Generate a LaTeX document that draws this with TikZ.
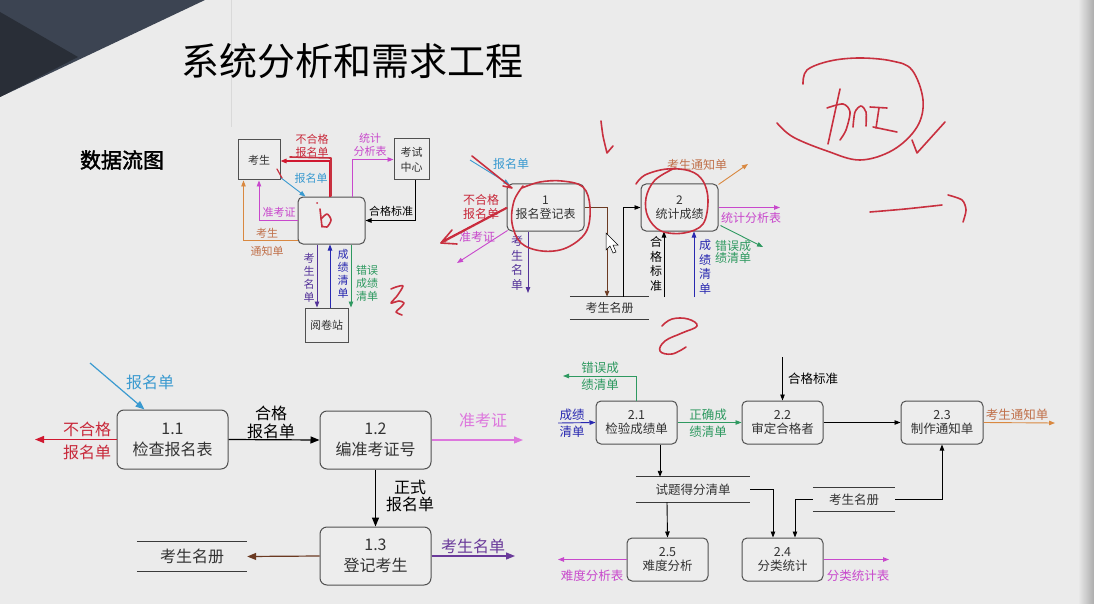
\documentclass[tikz,border=0pt]{standalone}
\usepackage{fontspec}
\setmainfont{Noto Sans CJK SC}
\newfontfamily\boldcjk[FakeBold=2]{Noto Sans CJK SC}
\usetikzlibrary{arrows.meta,calc}
\definecolor{bg}{HTML}{EBEBEB}
\definecolor{bgbox}{HTML}{EDEDED}
\definecolor{slateA}{HTML}{3C4452}
\definecolor{slateB}{HTML}{292E37}
\definecolor{boxc}{HTML}{505050}
\definecolor{boxt}{HTML}{333333}
\definecolor{storec}{HTML}{3A3A3A}
\definecolor{redc}{HTML}{D01830}
\definecolor{redt}{HTML}{C8283A}
\definecolor{bluec}{HTML}{3A9AD0}
\definecolor{magc}{HTML}{C848CC}
\definecolor{pinkc}{HTML}{DD77DD}
\definecolor{greenc}{HTML}{2E9960}
\definecolor{purc}{HTML}{55339A}
\definecolor{purc2}{HTML}{6A3A9A}
\definecolor{dbluec}{HTML}{2828B0}
\definecolor{orc}{HTML}{D98840}
\definecolor{ort}{HTML}{C0704A}
\definecolor{brownc}{HTML}{6B3A22}
\definecolor{handc}{HTML}{C8303F}
\newcommand\fntA{\fontsize{11}{12.5}\selectfont}
\newcommand\fntAv{\fontsize{11}{13}\selectfont}
\newcommand\fntB{\fontsize{12}{14.5}\selectfont}
\newcommand\fntC{\fontsize{16}{21}\selectfont}
\newcommand\fntD{\fontsize{12.5}{14.5}\selectfont}
\begin{document}
\begin{tikzpicture}[x=1pt,y=-1pt,
  ext/.style={draw=boxc, line width=1pt, inner sep=0pt, align=center, fill=bgbox, text=boxt},
  proc/.style={ext, rounded corners=5pt},
  lab/.style={inner sep=0pt, align=center},
  arrS/.style={-{Triangle[length=6pt,width=4.5pt]}, line width=0.9pt},
  arrL/.style={-{Triangle[length=9pt,width=7pt]}, line width=1.2pt},
  sline/.style={line width=1.2pt, draw=storec},
  hand/.style={draw=handc, line width=1.6pt, line cap=round, line join=round},
]
% background
\fill[bg] (0,0) rectangle (1094,604);
\useasboundingbox (0,0) rectangle (1094,604);
\shade[left color=bg, right color=gray!65] (1078,0) rectangle (1094,604);
\fill[slateA] (0,0) -- (205,0) -- (0,97) -- cycle;
\fill[slateB] (0,12) -- (78,57) -- (0,97) -- cycle;
\draw[gray!30, line width=0.4pt] (231,0) -- (231,127);

% titles
\node[lab, font=\fontsize{38}{40}\selectfont] (title) at (352,61) {系统分析和需求工程};
\node[lab, font=\boldcjk\fontsize{21}{24}\selectfont] (dfd) at (122,160) {数据流图};

% ===== top-left diagram =====
\node[ext, font=\fntA, minimum width=42pt, minimum height=40pt] (ks) at (259,160) {考生};
\node[ext, font=\fontsize{11}{15}\selectfont, minimum width=35pt, minimum height=41pt] (ksc) at (411.5,159.5) {考试\\中心};
\node[proc, minimum width=67pt, minimum height=47pt] (p0) at (331.5,220.5) {};
\node[ext, font=\fntA, minimum width=43pt, minimum height=34pt] (yjz) at (326.5,325) {阅卷站};

\draw[arrS, redc, line width=1.3pt] ($(p0.north)+(-1.5,0)$) |- ($(ks.east)+(0,1)$);
\node[lab, font=\fntA, text=redt] (l01) at (312,146) {不合格\\报名单};
\draw[arrS, bluec] ($(ks.south east)+(0,-3)$) -- ($(p0.north west)+(8,0)$);
\node[lab, font=\fntA, text=bluec] (l02) at (311,178) {报名单};
\draw[arrS, magc] (p0.west) -| (ks.south);
\node[lab, font=\fntA, text=magc] (l03) at (279,212) {准考证};
\draw[arrS, orc] ($(p0.south west)+(0,-4)$) -| ($(ks.south west)+(6,0)$);
\node[lab, font=\fontsize{11}{18}\selectfont, text=ort] (l04) at (267,242) {考生\\通知单};
\draw[arrS, magc] ($(p0.north east)+(-13,0)$) |- (ksc.west);
\node[lab, font=\fntA, text=magc] (l05) at (370,145) {统计\\分析表};
\draw[arrS] ($(ksc.south)+(3.5,0)$) |- (p0.east);
\node[lab, font=\fntA] (l06) at (391,211) {合格标准};
\draw[arrS, purc] ($(p0.south)+(-14.5,0)$) -- ($(yjz.north)+(-9.5,0)$);
\node[lab, font=\fntAv, text=purc] (l07) at (309,278) {考\\生\\名\\单};
\draw[arrS, dbluec] ($(yjz.north)+(3.5,0)$) -- ($(p0.south)+(-1.5,0)$);
\node[lab, font=\fntAv, text=dbluec] (l08) at (343,274) {成\\绩\\清\\单};
\draw[arrS, greenc] ($(p0.south)+(19.5,0)$) -- ($(yjz.north)+(24.5,0)$);
\node[lab, font=\fntAv, text=greenc] (l09) at (367,283) {错误\\成绩\\清单};

% ===== top-middle diagram =====
\node[proc, font=\fntB, minimum width=77pt, minimum height=47pt] (p1) at (545.5,207.5) {1\\报名登记表};
\node[proc, font=\fntB, minimum width=77pt, minimum height=47pt] (p2) at (679.5,207.5) {2\\统计成绩};
\node[lab, font=\fntB, text=boxt, minimum width=79pt, minimum height=22pt] (s1) at (609.5,308) {考生名册};
\draw[sline] (s1.north west) -- (s1.north east);
\draw[sline] (s1.south west) -- (s1.south east);

\coordinate (a1) at (470,160);
\draw[arrS, bluec] (a1) -- ($(p1.north west)+(3,1)$);
\node[lab, font=\fntB, text=bluec] (l11) at (511,164) {报名单};
\coordinate (a2) at (441,242);
\draw[arrS, redc, line width=1.2pt] (p1.west) -- (a2);
\node[lab, font=\fntB, text=redt] (l12) at (481,207) {不合格\\报名单};
\coordinate (a3) at (457,263);
\draw[arrS, magc] ($(p1.south west)+(1,-1)$) -- (a3);
\node[lab, font=\fntB, text=magc] (l13) at (477,237) {准考证};
\coordinate (a4) at (528,293);
\draw[arrS, purc] ($(p1.south)+(-17.5,0)$) -- (a4);
\node[lab, font=\fntB, text=purc] (l14) at (517,263) {考\\生\\名\\单};
\draw[arrS, brownc] (p1.east) -| ($(s1.north)+(-2.5,0)$);
\draw[arrS] ($(s1.north)+(13.5,0)$) |- (p2.west);
\coordinate (a5) at (664,297);
\draw[arrS] (a5) -- ($(p2.south)+(-15.5,0)$);
\node[lab, font=\fntB] (l15) at (656,264) {合\\格\\标\\准};
\coordinate (a6) at (694,297);
\draw[arrS, dbluec] (a6) -- ($(p2.south)+(14.5,0)$);
\node[lab, font=\fntB, text=dbluec] (l16) at (705,267) {成\\绩\\清\\单};
\coordinate (a7) at (748,164);
\draw[arrS, orc] ($(p2.north east)+(0,1)$) -- (a7);
\node[lab, font=\fntB, text=ort] (l17) at (697,165) {考生通知单};
\coordinate (a8) at (780,207.5);
\draw[arrS, magc] (p2.east) -- (a8);
\node[lab, font=\fntB, text=magc] (l18) at (751,218) {统计分析表};
\coordinate (a9) at (763,247);
\draw[arrS, greenc] ($(p2.south east)+(2,-6)$) -- (a9);
\node[lab, font=\fontsize{12}{12}\selectfont, text=greenc] (l19) at (733,252) {错误成\\绩清单};

% ===== bottom-left diagram =====
\node[proc, rounded corners=7pt, font=\fntC, minimum width=111pt, minimum height=59pt] (b11) at (172.5,439.5) {1.1\\检查报名表};
\node[proc, rounded corners=7pt, font=\fntC, minimum width=111pt, minimum height=58pt] (b12) at (375.5,440) {1.2\\编准考证号};
\node[proc, rounded corners=7pt, font=\fntC, minimum width=111pt, minimum height=58pt] (b13) at (375.5,556) {1.3\\登记考生};
\node[lab, font=\fntC, text=boxt, minimum width=110pt, minimum height=29pt] (st) at (192,556.5) {考生名册};
\draw[sline] (st.north west) -- (st.north east);
\draw[sline] (st.south west) -- (st.south east);

\coordinate (c1) at (90,363);
\draw[arrL, bluec] (c1) -- ($(b11.north west)+(28,0)$);
\node[lab, font=\fntC, text=bluec] (l21) at (150,382) {报名单};
\coordinate (c2) at (35,439.5);
\draw[arrL, redc] (b11.west) -- (c2);
\node[lab, font=\fontsize{16}{23}\selectfont, text=redt] (l22) at (87,441) {不合格\\报名单};
\draw[arrL] (b11.east) -- (b12.west);
\node[lab, font=\fontsize{16}{18}\selectfont] (l23) at (271,422) {合格\\报名单};
\coordinate (c3) at (523,440);
\draw[arrL, pinkc] (b12.east) -- (c3);
\node[lab, font=\fntC, text=pinkc] (l24) at (483,420) {准考证};
\draw[arrL] (b12.south) -- (b13.north);
\node[lab, font=\fontsize{16}{17}\selectfont] (l25) at (410,496) {正式\\报名单};
\coordinate (c4) at (515,556);
\draw[arrL, purc2] (b13.east) -- (c4);
\node[lab, font=\fntC, text=purc2] (l26) at (473,546) {考生名单};
\draw[arrL, brownc] (b13.west) -- (st.east);

% ===== bottom-right diagram =====
\node[proc, font=\fntD, minimum width=81pt, minimum height=43pt] (d21) at (636.5,422.5) {2.1\\检验成绩单};
\node[proc, font=\fntD, minimum width=81pt, minimum height=43pt] (d22) at (782.5,422.5) {2.2\\审定合格者};
\node[proc, font=\fntD, minimum width=82pt, minimum height=43pt] (d23) at (942,422.5) {2.3\\制作通知单};
\node[proc, font=\fntD, minimum width=81pt, minimum height=43pt] (d25) at (667.5,559.5) {2.5\\难度分析};
\node[proc, font=\fntD, minimum width=81pt, minimum height=43pt] (d24) at (782.5,559.5) {2.4\\分类统计};
\node[lab, font=\fntD, text=boxt, minimum width=114pt, minimum height=25pt] (sq) at (693,489.5) {试题得分清单};
\draw[sline] (sq.north west) -- (sq.north east);
\draw[sline] (sq.south west) -- (sq.south east);
\node[lab, font=\fntD, text=boxt, minimum width=82pt, minimum height=23pt] (sk) at (854,499.5) {考生名册};
\draw[sline] (sk.north west) -- (sk.north east);
\draw[sline] (sk.south west) -- (sk.south east);

\coordinate (e1) at (558,423);
\draw[arrS, dbluec] (e1) -- (d21.west);
\node[lab, font=\fontsize{12.5}{17}\selectfont, text=dbluec] (l31) at (572,423) {成绩\\清单};
\coordinate (e2) at (563,376);
\draw[arrS, greenc] (d21.north) |- (e2);
\node[lab, font=\fontsize{12.5}{17}\selectfont, text=greenc] (l32) at (600,376.5) {错误成\\绩清单};
\draw[arrS, greenc] (d21.east) -- (d22.west);
\node[lab, font=\fontsize{12.5}{17}\selectfont, text=greenc] (l33) at (708,423.5) {正确成\\绩清单};
\coordinate (e3) at (782.5,357);
\draw[arrS] (e3) -- (d22.north);
\node[lab, font=\fntD] (l34) at (813,379) {合格标准};
\draw[arrS] (d22.east) -- (d23.west);
\coordinate (e4) at (1055,423);
\draw[arrS, orc] (d23.east) -- (e4);
\node[lab, font=\fntD, text=ort] (l35) at (1017,415) {考生通知单};
\draw[arrS] ($(d21.south)+(23.5,0)$) -- ($(sq.north)+(-33,0)$);
\draw[arrS] ($(sq.south)+(-26,0)$) -- (d25.north);
\draw[arrS] (sq.east) -| ($(d24.north)+(-9.5,0)$);
\draw[arrS] (sk.west) -| ($(d24.north)+(12.5,0)$);
\draw[arrS] (sk.east) -| (d23.south);
\coordinate (e5) at (558,559.5);
\draw[arrS, magc] (d25.west) -- (e5);
\node[lab, font=\fntD, text=magc] (l36) at (592,576) {难度分析表};
\coordinate (e6) at (889,559.5);
\draw[arrS, magc] (d24.east) -- (e6);
\node[lab, font=\fntD, text=magc] (l37) at (858,576) {分类统计表};

% ===== handwriting =====
\draw[hand] (331,196) -- (331,158) -- (290,157);
\draw[hand, line width=1.2pt] (277,169) -- (282,178);
\fill[handc] (317,203) circle (1pt);
\draw[hand] plot[smooth] coordinates {(320,209) (321,218) (322,227)};
\draw[hand] plot[smooth] coordinates {(321,219) (327,214) (331,220) (327,227) (322,226)};
\draw[hand] plot[smooth] coordinates {(391,289) (396,287) (403,286) (397,296) (391,303) (399,301) (404,303) (400,308) (396,312) (402,315)};
\draw[hand] (472,156) -- (512,188) -- (503,186);
\draw[hand] (507,208) -- (441,243);
\draw[hand] (452,230) -- (441,243) -- (457,244);
\draw[hand] plot[smooth, tension=0.6] coordinates {(522,188) (540,182) (562,181) (583,187) (590,207) (586,232) (566,248) (542,251) (521,243) (512,223) (514,201) (523,186)};
\draw[hand] plot[smooth, tension=0.6] coordinates {(636,184) (645,175) (667,169) (690,171) (703,181) (708,200) (703,224) (684,233) (661,231) (648,217) (646,198) (655,180) (675,168)};
\draw[hand] plot[smooth] coordinates {(601,121) (603,136) (607,153)} -- (613,146);
\draw[hand] plot[smooth, tension=0.7] coordinates {(662,326) (672,319) (688,319) (697,326) (682,333) (665,341) (660,351) (672,354) (686,347)};
\draw[hand] plot[smooth, tension=0.6] coordinates {(803,84) (807,70) (830,61) (860,58) (892,61) (912,70) (923,100) (917,127) (893,150) (860,160) (827,151) (793,137) (777,123)};
\draw[hand] (840,89) -- (828,144);
\draw[hand] plot[smooth] coordinates {(827,108) (843,104) (850,112) (846,130) (840,140)};
\draw[hand] plot[smooth] coordinates {(853,127) (855,112) (861,106) (866,112) (866,126)};
\draw[hand] (870,107) -- (887,108);
\draw[hand] (879,108) -- (876,128);
\draw[hand] (873,127) -- (897,132);
\draw[hand] (912,140) -- (917,153) -- (945,122);
\draw[hand] plot[smooth] coordinates {(870,212) (905,209) (942,205)};
\draw[hand] plot[smooth] coordinates {(948,195) (962,200) (966,210) (963,222)};

% mouse cursor
\filldraw[fill=white, draw=black, line width=0.5pt] (606,233) -- (606,250) -- (610,246) -- (613,253) -- (616,252) -- (613,245) -- (618,245) -- cycle;
\end{tikzpicture}
\end{document}
